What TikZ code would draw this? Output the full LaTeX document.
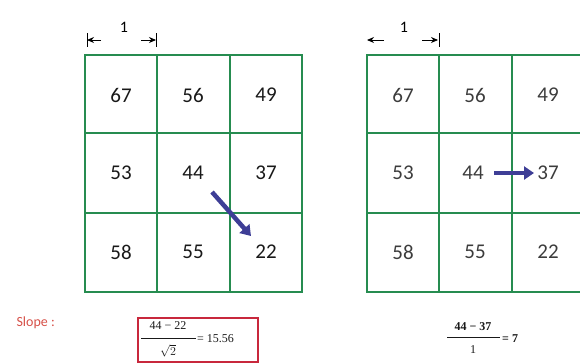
\documentclass[tikz,border=0pt]{standalone}
\usepackage{fontspec}
\setmainfont{Carlito}
\newfontfamily\mathlike{Liberation Serif}
\usetikzlibrary{arrows.meta}
\definecolor{gridgreen}{RGB}{38,140,80}
\definecolor{arrowblue}{RGB}{62,62,150}
\definecolor{slopered}{RGB}{214,80,72}
\definecolor{boxred}{RGB}{200,40,60}
\definecolor{numgray}{RGB}{25,25,25}
\definecolor{numgray2}{RGB}{60,60,60}
\tikzset{
  gridline/.style={draw=gridgreen, line width=2.6pt},
  num/.style={font=\fontsize{21}{23}\selectfont, text=numgray},
  numr/.style={font=\fontsize{21}{23}\selectfont, text=numgray2},
  bigarrow/.style={draw=arrowblue, line width=4.5pt, -{Triangle[length=10pt,width=13pt]}},
  dimarrow/.style={draw=black, line width=0.9pt, -{Stealth[length=7pt,width=6pt]}},
  dimbar/.style={draw=black, line width=1pt},
  formula/.style={font=\mathlike\fontsize{12}{13}\selectfont, text=numgray, inner sep=0pt}
}
\begin{document}
\begin{tikzpicture}[x=1pt,y=-1pt]
\useasboundingbox (0,0) rectangle (580,362);
% left grid
\draw[gridline] (85,55) rectangle (302,292);
\draw[gridline] (157,55) -- (157,292);
\draw[gridline] (230,55) -- (230,292);
\draw[gridline] (85,133) -- (302,133);
\draw[gridline] (85,213) -- (302,213);
% right grid
\begin{scope}
\clip (0,0) rectangle (580,362);
\draw[gridline] (367,55) rectangle (584,292);
\draw[gridline] (439,55) -- (439,292);
\draw[gridline] (512,55) -- (512,292);
\draw[gridline] (367,133) -- (584,133);
\draw[gridline] (367,213) -- (584,213);
\end{scope}
% left numbers
\node[num] (l67) at (121,95) {67};
\node[num] (l56) at (193,95) {56};
\node[num] (l49) at (266,95) {49};
\node[num] (l53) at (121,173) {53};
\node[num] (l44) at (193,173) {44};
\node[num] (l37) at (266,173) {37};
\node[num] (l58) at (121,252) {58};
\node[num] (l55) at (193,252) {55};
\node[num] (l22) at (266,252) {22};
% right numbers
\node[numr] (r67) at (403,95) {67};
\node[numr] (r56) at (475,95) {56};
\node[numr] (r49) at (548,95) {49};
\node[numr] (r53) at (403,173) {53};
\node[numr] (r44) at (473,173) {44};
\node[numr] (r37) at (548,173) {37};
\node[numr] (r58) at (403,252) {58};
\node[numr] (r55) at (475,252) {55};
\node[numr] (r22) at (548,252) {22};
% arrows
\coordinate (la) at (212,192);
\coordinate (lb) at (251,236);
\draw[bigarrow] (la) -- (lb);
\coordinate (ra) at (494,173);
\coordinate (rb) at (534,173);
\draw[bigarrow] (ra) -- (rb);
% dimension markers left
\node[font=\fontsize{16}{18}\selectfont] (d1) at (124,27) {1};
\coordinate (d1a) at (101,40);
\coordinate (d1b) at (87,40);
\coordinate (d1c) at (141,40);
\coordinate (d1d) at (156,40);
\draw[dimarrow] (d1a) -- (d1b);
\draw[dimarrow] (d1c) -- (d1d);
\draw[dimbar] (87,33) -- (87,47);
\draw[dimbar] (156,33) -- (156,47);
% dimension markers right
\node[font=\fontsize{16}{18}\selectfont] (d2) at (404,27) {1};
\coordinate (d2a) at (384,40);
\coordinate (d2b) at (367,40);
\coordinate (d2c) at (422,40);
\coordinate (d2d) at (438,40);
\draw[dimarrow] (d2a) -- (d2b);
\draw[dimarrow] (d2c) -- (d2d);
\draw[dimbar] (439,33) -- (439,47);
% slope label
\node[font=\fontsize{14}{16}\selectfont, text=slopered, anchor=west] (slope) at (13,323) {Slope :};
% left formula
\draw[draw=boxred, line width=1.8pt] (138,318) rectangle (258,362);
\node[formula] (f1n) at (168,326) {44 − 22};
\draw[numgray, line width=0.5pt] (141,338) -- (196,338);
\node[formula] (f1d) at (168,351) {\(\sqrt{2}\)};
\node[formula, anchor=west] (f1r) at (197,339) {= 15.56};
% right formula
\node[formula, font=\mathlike\bfseries\fontsize{12}{13}\selectfont] (f2n) at (473,327) {44 − 37};
\draw[numgray, line width=0.6pt] (447,337) -- (500,337);
\node[formula] (f2d) at (473,350) {1};
\node[formula, anchor=west, font=\mathlike\bfseries\fontsize{12}{13}\selectfont] (f2r) at (502,339) {= 7};
\end{tikzpicture}
\end{document}
